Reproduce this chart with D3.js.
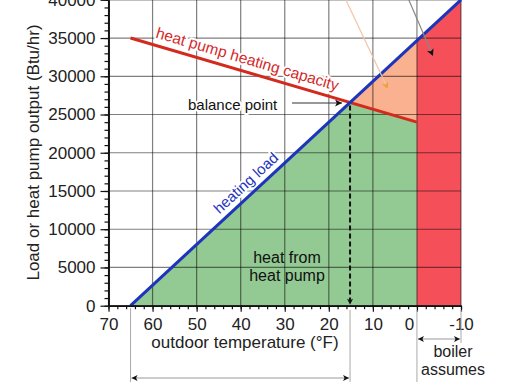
<!DOCTYPE html>
<html><head><meta charset="utf-8">
<script src="https://cdn.jsdelivr.net/npm/d3@7"></script>
<style>
body{margin:0;background:#fff}
svg{display:block;font-family:"Liberation Sans",Arial,Helvetica,sans-serif}
</style>
</head><body>
<svg id="c" width="510" height="382"></svg>
<script>
// ---- data ----
const xTicks = [70, 60, 50, 40, 30, 20, 10, 0, -10];
const yTicks = [0, 5000, 10000, 15000, 20000, 25000, 30000, 35000, 40000];
const loadTemp = [65, -10];
const loadVal  = [0, 40000];
const capTemp  = [65, 0];
const capVal   = [35000, 24000];
const boilerTemp = [0, -10];

// ---- scales ----
const x = d3.scaleLinear().domain([70, -10]).range([108.5, 461]);
const y = d3.scaleLinear().domain([0, 40000]).range([305.7, -0.2]);

const svg = d3.select("#c");
const defs = svg.append("defs");
function marker(id, color, w, h){
  defs.append("marker").attr("id", id).attr("viewBox", "0 0 10 10")
    .attr("refX", 10).attr("refY", 5).attr("markerUnits", "userSpaceOnUse")
    .attr("markerWidth", w).attr("markerHeight", h).attr("orient", "auto-start-reverse")
    .append("path").attr("d", "M0,0L10,5L0,10L2.5,5Z").attr("fill", color);
}
marker("ab", "#111", 12, 7);
marker("ao", "#f0a040", 12, 7);
marker("as", "#111", 9, 6);

// line functions
const lerp = (t0, t1, v0, v1) => t => v0 + (t - t0) * (v1 - v0) / (t1 - t0);
const load = lerp(loadTemp[0], loadTemp[1], loadVal[0], loadVal[1]);
const cap  = lerp(capTemp[0], capTemp[1], capVal[0], capVal[1]);
// balance point (intersection)
const sL = (loadVal[1]-loadVal[0])/(loadTemp[1]-loadTemp[0]);
const sC = (capVal[1]-capVal[0])/(capTemp[1]-capTemp[0]);
const bT = (capVal[0] - loadVal[0] + sL*loadTemp[0] - sC*capTemp[0])/(sL - sC);
const bV = load(bT);

const poly = d3.line().x(d => x(d[0])).y(d => y(d[1]));

// fills
svg.append("path").attr("d", poly([[capTemp[1],0],[capTemp[1],load(capTemp[1])],[boilerTemp[1],load(boilerTemp[1])],[boilerTemp[1],0]])+"Z")
  .attr("fill", "#f5505a");
svg.append("path").attr("d", poly([[bT,bV],[capTemp[1],load(capTemp[1])],[capTemp[1],capVal[1]]])+"Z")
  .attr("fill", "#f9b190");
svg.append("path").attr("d", poly([[loadTemp[0],0],[bT,bV],[capTemp[1],capVal[1]],[capTemp[1],0]])+"Z")
  .attr("fill", "#93c993");

// grid
const grid = svg.append("g").attr("stroke", "#000").attr("stroke-opacity", 0.5).attr("stroke-width", 1.2);
grid.selectAll("line.v").data(xTicks).join("line").attr("class","v")
  .attr("x1", d => x(d)).attr("x2", d => x(d)).attr("y1", y(40000)).attr("y2", y(0));
grid.selectAll("line.h").data(yTicks).join("line").attr("class","h")
  .attr("x1", x(70)).attr("x2", x(-10)).attr("y1", d => y(d)).attr("y2", d => y(d));

// text with halo helper
function halo(sel){ return sel.attr("stroke","#fff").attr("stroke-width",4).attr("stroke-linejoin","round").attr("paint-order","stroke"); }

// rotated labels along lines
function alongLabel(t, f, t0, t1, txt, color, size, dy){
  const ang = Math.atan2(y(f(t1)) - y(f(t0)), x(t1) - x(t0)) * 180 / Math.PI;
  const g = svg.append("g").attr("transform", `translate(${x(t)},${y(f(t))}) rotate(${ang})`);
  halo(g.append("text").attr("text-anchor","middle").attr("dy", dy).attr("font-size", size)
    .attr("fill", color).text(txt));
}
alongLabel(39.3, cap, capTemp[0], capTemp[1], "heat pump heating capacity", "#d42a2a", 15.5, -7.5);
alongLabel(37, load, loadTemp[0], loadTemp[1], "heating load", "#2233bb", 15, -6.5);

// heat pump capacity line and load line (drawn over label halos)
svg.append("path").attr("d", poly(capTemp.map((t,i)=>[t,capVal[i]]))).attr("stroke", "#d42a1e").attr("stroke-width", 3).attr("fill","none");
svg.append("path").attr("d", poly(loadTemp.map((t,i)=>[t,loadVal[i]]))).attr("stroke", "#1d35bb").attr("stroke-width", 3).attr("fill","none");

// balance point label
halo(svg.append("text").attr("x", 188).attr("y", 110).attr("font-size", 15).attr("fill", "#111").text("balance point"));
svg.append("line").attr("x1", 292).attr("x2", x(bT) - 8).attr("y1", 103).attr("y2", 103)
  .attr("stroke", "#333").attr("stroke-width", 1).attr("marker-end", "url(#ab)");

// heat from heat pump
svg.append("text").attr("x", 287).attr("y", 262.5).attr("font-size", 16).attr("text-anchor","middle").attr("fill","#111").text("heat from");
svg.append("text").attr("x", 287).attr("y", 280.5).attr("font-size", 16).attr("text-anchor","middle").attr("fill","#111").text("heat pump");

// dashed balance drop
svg.append("line").attr("x1", x(bT)).attr("x2", x(bT)).attr("y1", y(bV)+3).attr("y2", y(0)-1)
  .attr("stroke", "#111").attr("stroke-width", 2).attr("stroke-dasharray", "5,3").attr("marker-end", "url(#as)");

// top arrows (from off-chart labels)
svg.append("line").attr("x1", 345).attr("y1", -2).attr("x2", 388).attr("y2", 89)
  .attr("stroke", "#f2c4a8").attr("stroke-width", 1.2).attr("marker-end", "url(#ao)");
svg.append("line").attr("x1", 408).attr("y1", -2).attr("x2", 433).attr("y2", 56)
  .attr("stroke", "#888").attr("stroke-width", 1.2).attr("marker-end", "url(#ab)");

// axes
const yAxis = d3.axisLeft(y).tickValues(yTicks).tickSize(8).tickPadding(5).tickSizeOuter(0).tickFormat(d3.format("d"));
const yMinor = d3.axisLeft(y).tickValues(d3.range(0, 40001, 1000)).tickSize(4).tickFormat("").tickSizeOuter(0);
const xAxis = d3.axisBottom(x).tickValues(xTicks).tickSize(6).tickPadding(6).tickSizeOuter(0).tickFormat(d => d < 0 ? "-" + (-d) : d);
const xMinor = d3.axisBottom(x).tickValues(d3.range(70, -11, -2)).tickSize(3.5).tickFormat("").tickSizeOuter(0);

function styleAxis(g){
  g.select(".domain").attr("stroke", "#111").attr("stroke-width", 1.6);
  g.selectAll(".tick line").attr("stroke", "#111").attr("stroke-width", 1.2);
  g.selectAll(".tick text").attr("font-size", 17).attr("fill", "#222").attr("font-family", "Liberation Sans, Arial, sans-serif");
}
svg.append("g").attr("transform", `translate(${x(70)},0)`).call(yMinor).call(styleAxis);
svg.append("g").attr("transform", `translate(${x(70)},0)`).call(yAxis).call(styleAxis);
svg.append("g").attr("transform", `translate(0,${y(0)})`).call(xMinor).call(styleAxis);
svg.append("g").attr("transform", `translate(0,${y(0)})`).call(xAxis).call(styleAxis)
  .selectAll(".tick text").attr("dx", d => d === 0 ? -8 : 0);

// axis titles
svg.append("text").attr("x", 245).attr("y", 348).attr("text-anchor","middle").attr("font-size", 17).attr("fill","#222").text("outdoor temperature (°F)");
svg.append("text").attr("transform", "translate(39,152.5) rotate(-90)").attr("text-anchor","middle").attr("font-size", 17).attr("fill","#222").text("Load or heat pump output (Btu/hr)");

// bottom dimension lines
const dim = svg.append("g").attr("stroke", "#aaa").attr("stroke-width", 1);
dim.append("line").attr("x1", x(loadTemp[0])).attr("x2", x(loadTemp[0])).attr("y1", 308).attr("y2", 382);
dim.append("line").attr("x1", x(bT)).attr("x2", x(bT)).attr("y1", 310).attr("y2", 382);
dim.append("line").attr("x1", x(boilerTemp[0])).attr("x2", x(boilerTemp[0])).attr("y1", 310).attr("y2", 382);
dim.append("line").attr("x1", x(boilerTemp[1])).attr("x2", x(boilerTemp[1])).attr("y1", 310).attr("y2", 343);
svg.append("line").attr("x1", x(loadTemp[0])+1).attr("x2", x(bT)-1).attr("y1", 378).attr("y2", 378)
  .attr("stroke", "#999").attr("stroke-width", 1).attr("marker-start","url(#as)").attr("marker-end","url(#as)");
svg.append("line").attr("x1", x(boilerTemp[0])+1).attr("x2", x(boilerTemp[1])-1).attr("y1", 339).attr("y2", 339)
  .attr("stroke", "#999").attr("stroke-width", 1).attr("marker-start","url(#as)").attr("marker-end","url(#as)");
svg.append("text").attr("x", 453).attr("y", 357).attr("text-anchor","middle").attr("font-size", 16).attr("fill","#222").text("boiler");
svg.append("text").attr("x", 453).attr("y", 375).attr("text-anchor","middle").attr("font-size", 16).attr("fill","#222").text("assumes");
</script>
</body></html>
